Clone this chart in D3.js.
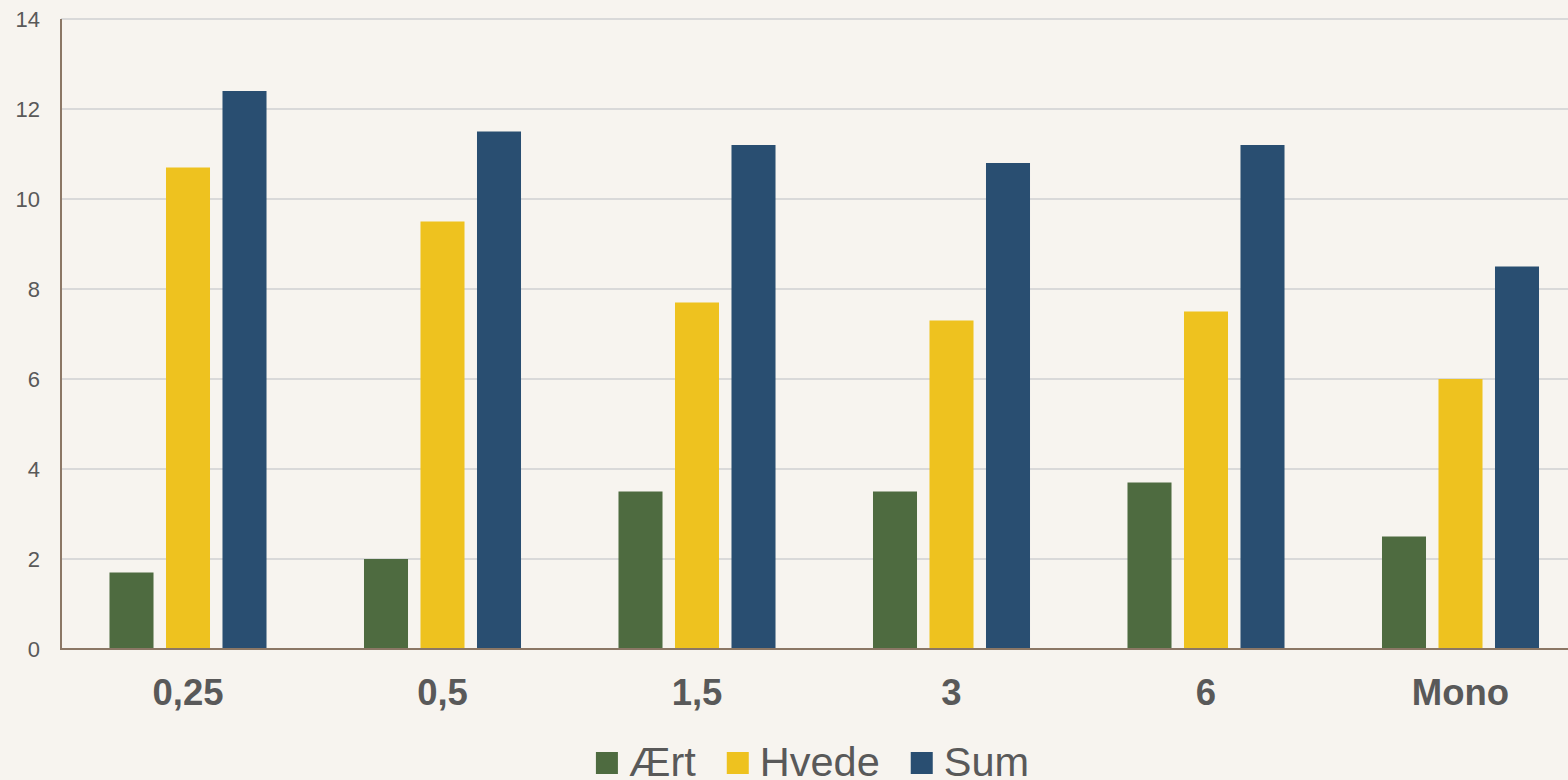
<!DOCTYPE html>
<html>
<head>
<meta charset="utf-8">
<script src="https://cdn.jsdelivr.net/npm/d3@7"></script>
<style>
  html, body { margin: 0; padding: 0; background: #f7f4ef; }
  svg { display: block; }
  text { font-family: "Liberation Sans", Arial, sans-serif; fill: #595959; }
</style>
</head>
<body>
<svg id="chart" width="1568" height="780"></svg>
<script>
const categories = ["0,25", "0,5", "1,5", "3", "6", "Mono"];
const seriesNames = ["Ært", "Hvede", "Sum"];
const aertValues = [1.7, 2.0, 3.5, 3.5, 3.7, 2.5];
const hvedeValues = [10.7, 9.5, 7.7, 7.3, 7.5, 6.0];
const sumValues = [12.4, 11.5, 11.2, 10.8, 11.2, 8.5];
const yTicks = [0, 2, 4, 6, 8, 10, 12, 14];
const seriesColors = ["#4e6b40", "#eec21f", "#294e71"];

const seriesValues = [aertValues, hvedeValues, sumValues];
const data = categories.map((c, i) => ({
  cat: c,
  vals: seriesNames.map((s, j) => ({ s, v: seriesValues[j][i] }))
}));

const W = 1568, H = 780;
const svg = d3.select("#chart");
svg.append("rect").attr("width", W).attr("height", H).attr("fill", "#f7f4ef");

const plotLeft = 61, plotTop = 19, plotBottom = 649;
const x0 = d3.scaleBand().domain(categories).range([60.75, 1587.75]).padding(0);
const bw = x0.bandwidth();
const x1 = d3.scaleBand().domain(seriesNames)
  .range([bw / 2 - 84.75, bw / 2 + 84.75]).paddingInner(0.221).paddingOuter(0.1105);
const y = d3.scaleLinear().domain([0, 14]).range([plotBottom, plotTop]);
const color = d3.scaleOrdinal().domain(seriesNames).range(seriesColors);

// gridlines
svg.append("g").selectAll("line").data(yTicks.filter(t => t > 0)).join("line")
  .attr("x1", plotLeft).attr("x2", W)
  .attr("y1", d => y(d)).attr("y2", d => y(d))
  .attr("stroke", "#d9d9d9").attr("stroke-width", 2);

// y tick labels
const yAxis = d3.axisLeft(y).tickValues(yTicks).tickSize(0).tickPadding(0).tickFormat(d3.format("d"));
const gy = svg.append("g").attr("transform", "translate(40,0)").call(yAxis);
gy.select(".domain").remove();
gy.selectAll("text").style("font-size", "22px").attr("fill", "#595959")
  .style("font-family", '"Liberation Sans", Arial, sans-serif');

// bars
const groups = svg.append("g").selectAll("g").data(data).join("g")
  .attr("transform", d => `translate(${x0(d.cat)},0)`);
groups.selectAll("rect").data(d => d.vals).join("rect")
  .attr("x", d => x1(d.s))
  .attr("width", x1.bandwidth())
  .attr("y", d => y(d.v))
  .attr("height", d => y(0) - y(d.v))
  .attr("fill", d => color(d.s));

// axis lines
svg.append("line").attr("x1", plotLeft).attr("x2", plotLeft)
  .attr("y1", plotTop).attr("y2", plotBottom + 1)
  .attr("stroke", "#8b7765").attr("stroke-width", 2);
svg.append("line").attr("x1", plotLeft - 1).attr("x2", W)
  .attr("y1", plotBottom).attr("y2", plotBottom)
  .attr("stroke", "#8b7765").attr("stroke-width", 2);

// category labels
const xAxis = d3.axisBottom(x0).tickSize(0).tickPadding(0);
const gx = svg.append("g").attr("transform", `translate(0,${plotBottom})`).call(xAxis);
gx.select(".domain").remove();
gx.selectAll("text")
  .attr("dy", null).attr("y", 56)
  .style("font-size", "36.5px").style("font-weight", "bold").attr("fill", "#595959")
  .style("font-family", '"Liberation Sans", Arial, sans-serif');

// legend
const legend = svg.append("g");
const items = legend.selectAll("g").data(seriesNames).join("g");
items.append("rect").attr("width", 22).attr("height", 22).attr("y", 752)
  .attr("fill", d => color(d));
items.append("text").text(d => d).attr("x", 33).attr("y", 776)
  .style("font-size", "41.5px");
let widths = [];
items.each(function() { widths.push(33 + d3.select(this).select("text").node().getComputedTextLength()); });
const gap = 31;
const total = d3.sum(widths) + gap * (widths.length - 1);
let cx = 812.5 - total / 2;
items.attr("transform", (d, i) => {
  const t = `translate(${cx},0)`;
  cx += widths[i] + gap;
  return t;
});
</script>
</body>
</html>
